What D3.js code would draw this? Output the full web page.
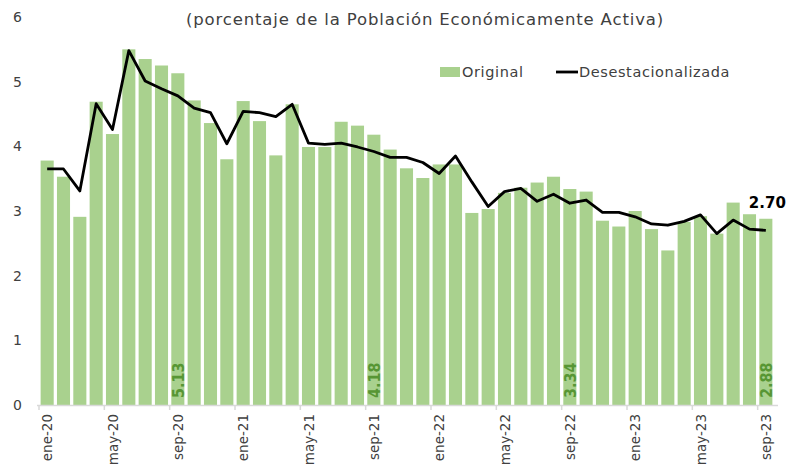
<!DOCTYPE html>
<html lang="es">
<head>
    <meta charset="UTF-8">
    <title>Tasa de desocupación</title>
    <script src="https://d3js.org/d3.v7.min.js"></script>
    <style>
        body { margin: 0; background: #fff; }
        svg text { font-family: "DejaVu Sans", sans-serif; }
    </style>
</head>
<body>
    <svg id="chart" width="786" height="466"></svg>
    <script>
        let months = ["ene", "feb", "mar", "abr", "may", "jun", "jul", "ago", "sep", "oct", "nov", "dic"]
        let periods = []
        for (let yr = 20; yr <= 23; yr++) {
            months.forEach(m => periods.push(m + "-" + yr))
        }
        periods = periods.slice(0, 45)

        let original = [3.78, 3.53, 2.91, 4.69, 4.19, 5.50, 5.35, 5.25, 5.13, 4.71, 4.36, 3.80,
            4.70, 4.39, 3.86, 4.65, 3.99, 3.99, 4.38, 4.32, 4.18, 3.95, 3.66, 3.51,
            3.72, 3.72, 2.97, 3.03, 3.28, 3.36, 3.44, 3.53, 3.34, 3.30, 2.85, 2.76,
            3.00, 2.72, 2.39, 2.83, 2.92, 2.65, 3.13, 2.95, 2.88]

        let desest = [3.65, 3.65, 3.31, 4.66, 4.26, 5.48, 5.01, 4.89, 4.78, 4.59, 4.52, 4.04,
            4.54, 4.52, 4.46, 4.65, 4.05, 4.03, 4.05, 3.99, 3.92, 3.83, 3.83, 3.75,
            3.58, 3.85, 3.45, 3.07, 3.30, 3.35, 3.15, 3.26, 3.12, 3.17, 2.98, 2.98,
            2.91, 2.80, 2.78, 2.84, 2.94, 2.65, 2.86, 2.72, 2.70]

        let yTicks = [0, 1, 2, 3, 4, 5, 6]
        let labelled = ["sep-20", "sep-21", "sep-22", "sep-23"]

        let svg = d3.select("#chart")
        let mLeft = 39, mRight = 774, mTop = 17, mBottom = 405

        let x = d3.scaleBand().domain(periods).range([mLeft, mRight]).paddingInner(0.2).paddingOuter(0.1)
        let y = d3.scaleLinear().domain([0, 6]).range([mBottom, mTop])
        let step = x.step()

        // title
        svg.append("text")
            .attr("x", 425).attr("y", 25)
            .attr("text-anchor", "middle")
            .attr("font-size", 16.5)
            .attr("fill", "#404040")
            .style("letter-spacing", "0.85px")
            .text("(porcentaje de la Población Económicamente Activa)")

        // y labels
        svg.selectAll(".ytick").data(yTicks).enter().append("text")
            .attr("x", 22).attr("y", d => y(d) + 5)
            .attr("text-anchor", "end")
            .attr("font-size", 14)
            .attr("fill", "#404040")
            .text(d => d)

        // bars
        svg.selectAll(".bar").data(original).enter().append("rect")
            .attr("x", (d, i) => x(periods[i]))
            .attr("y", d => y(d))
            .attr("width", x.bandwidth())
            .attr("height", d => mBottom - y(d))
            .attr("fill", "#a9d18e")

        // x axis
        svg.append("line")
            .attr("x1", mLeft - 2).attr("x2", mRight + 4)
            .attr("y1", mBottom + 0.5).attr("y2", mBottom + 0.5)
            .attr("stroke", "#d9d9d9").attr("stroke-width", 1.5)

        let shown = periods.filter((p, i) => i % 4 == 0)
        svg.selectAll(".xtick").data(shown).enter().append("line")
            .attr("x1", d => x(d) - step * 0.1).attr("x2", d => x(d) - step * 0.1)
            .attr("y1", mBottom).attr("y2", mBottom + 5)
            .attr("stroke", "#d9d9d9").attr("stroke-width", 1.5)

        svg.selectAll(".xlab").data(shown).enter().append("text")
            .attr("transform", d => `translate(${x(d) + x.bandwidth() / 2 + 5},${mBottom + 9}) rotate(-90)`)
            .attr("text-anchor", "end")
            .attr("font-size", 13.5)
            .attr("fill", "#404040")
            .text(d => d)

        // line
        let line = d3.line()
            .x((d, i) => x(periods[i]) + x.bandwidth() / 2)
            .y(d => y(d))
        svg.append("path")
            .datum(desest)
            .attr("d", line)
            .attr("fill", "none")
            .attr("stroke", "#000")
            .attr("stroke-width", 2.8)
            .attr("stroke-linejoin", "round")

        // value labels inside bars
        svg.selectAll(".vlab").data(labelled).enter().append("text")
            .attr("transform", d => `translate(${x(d) + x.bandwidth() / 2 + 6},${mBottom - 7}) rotate(-90)`)
            .attr("font-size", 16)
            .attr("font-weight", "bold")
            .style("font-family", "'DejaVu Sans Condensed', 'DejaVu Sans', sans-serif")
            .style("font-stretch", "condensed")
            .attr("fill", "#579634")
            .text(d => original[periods.indexOf(d)].toFixed(2))

        let last = periods.length - 1
        svg.append("text")
            .attr("x", x(periods[last]) + x.bandwidth() / 2 + 20)
            .attr("y", y(desest[last]) - 22)
            .attr("text-anchor", "end")
            .attr("font-size", 15)
            .attr("font-weight", "bold")
            .attr("fill", "#000")
            .text(desest[last].toFixed(2))

        // legend
        let lg = svg.append("g")
        lg.append("rect").attr("x", 440).attr("y", 67).attr("width", 20).attr("height", 10).attr("fill", "#a9d18e")
        lg.append("text").attr("x", 462).attr("y", 77).attr("font-size", 14.5)
            .style("letter-spacing", "0.6px").attr("fill", "#404040").text("Original")
        lg.append("line").attr("x1", 556).attr("x2", 578).attr("y1", 72).attr("y2", 72)
            .attr("stroke", "#000").attr("stroke-width", 2.8)
        lg.append("text").attr("x", 579).attr("y", 77).attr("font-size", 14.5)
            .style("letter-spacing", "0.6px").attr("fill", "#404040").text("Desestacionalizada")
    </script>
</body>
</html>
